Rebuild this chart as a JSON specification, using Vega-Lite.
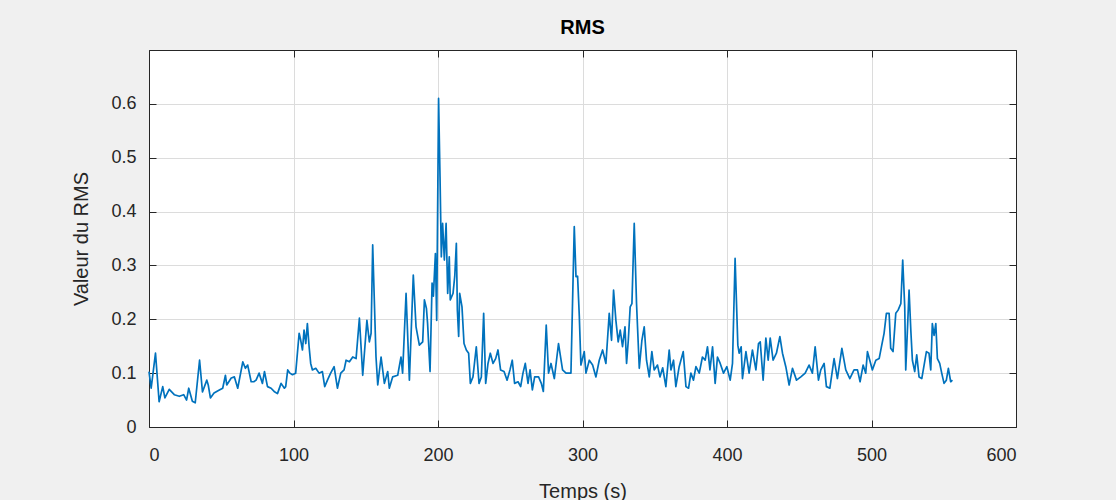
{
  "$schema": "https://vega.github.io/schema/vega-lite/v6.json",
  "autosize": {"type": "none"},
  "width": 867,
  "height": 377,
  "padding": {"left": 149, "top": 50, "right": 100, "bottom": 73},
  "background": "#f0f0f0",
  "title": {"text": "RMS", "font": "Liberation Sans", "fontSize": 20, "fontWeight": "bold", "color": "#000000", "offset": 12},
  "config": {
    "view": {"fill": "#ffffff", "stroke": "#262626", "strokeWidth": 1},
    "axis": {
      "domainColor": "#262626",
      "tickColor": "#262626",
      "labelColor": "#262626",
      "titleColor": "#262626",
      "labelFont": "Liberation Sans",
      "titleFont": "Liberation Sans",
      "labelFontSize": 18,
      "titleFontSize": 20,
      "titleFontWeight": "normal",
      "gridColor": "#dcdcdc",
      "gridWidth": 1,
      "tickSize": -7
    }
  },
  "data": {"values": [
    {"t": 0, "rms": 0.103}, {"t": 1.5, "rms": 0.072}, {"t": 4.5, "rms": 0.137}, {"t": 7, "rms": 0.047},
    {"t": 9.5, "rms": 0.075}, {"t": 11, "rms": 0.054}, {"t": 14, "rms": 0.07}, {"t": 17.5, "rms": 0.06},
    {"t": 21, "rms": 0.057}, {"t": 24, "rms": 0.06}, {"t": 26, "rms": 0.05}, {"t": 27.5, "rms": 0.072},
    {"t": 30, "rms": 0.048}, {"t": 32, "rms": 0.045}, {"t": 35, "rms": 0.124}, {"t": 37, "rms": 0.065},
    {"t": 40, "rms": 0.087}, {"t": 41, "rms": 0.078}, {"t": 42.5, "rms": 0.054}, {"t": 45, "rms": 0.063},
    {"t": 49, "rms": 0.069}, {"t": 51, "rms": 0.072}, {"t": 52.9, "rms": 0.096}, {"t": 53.8, "rms": 0.078},
    {"t": 56.9, "rms": 0.091}, {"t": 59.1, "rms": 0.093}, {"t": 61.4, "rms": 0.072}, {"t": 64.9, "rms": 0.121},
    {"t": 66.7, "rms": 0.109}, {"t": 68.3, "rms": 0.115}, {"t": 70.7, "rms": 0.084}, {"t": 72.5, "rms": 0.084},
    {"t": 74.1, "rms": 0.087}, {"t": 76.2, "rms": 0.1}, {"t": 78.5, "rms": 0.081}, {"t": 79.9, "rms": 0.103},
    {"t": 82, "rms": 0.075}, {"t": 84.5, "rms": 0.072}, {"t": 86.6, "rms": 0.066}, {"t": 88.9, "rms": 0.062},
    {"t": 91.4, "rms": 0.081}, {"t": 93.7, "rms": 0.072}, {"t": 94.6, "rms": 0.075}, {"t": 96, "rms": 0.106},
    {"t": 97.5, "rms": 0.1}, {"t": 99.3, "rms": 0.097}, {"t": 101.5, "rms": 0.1}, {"t": 103.9, "rms": 0.174},
    {"t": 105, "rms": 0.161}, {"t": 106.2, "rms": 0.143}, {"t": 107.3, "rms": 0.18}, {"t": 108.5, "rms": 0.155},
    {"t": 109.6, "rms": 0.192}, {"t": 110.8, "rms": 0.149}, {"t": 111.9, "rms": 0.118}, {"t": 113.1, "rms": 0.106},
    {"t": 115.4, "rms": 0.109}, {"t": 117.7, "rms": 0.1}, {"t": 120, "rms": 0.103}, {"t": 121.6, "rms": 0.075},
    {"t": 123.5, "rms": 0.087}, {"t": 125.7, "rms": 0.1}, {"t": 128.1, "rms": 0.112}, {"t": 130.4, "rms": 0.072},
    {"t": 132.7, "rms": 0.1}, {"t": 135, "rms": 0.106}, {"t": 136.4, "rms": 0.124}, {"t": 138.7, "rms": 0.121},
    {"t": 141, "rms": 0.13}, {"t": 143.3, "rms": 0.127}, {"t": 145.6, "rms": 0.202}, {"t": 147.9, "rms": 0.096},
    {"t": 150.8, "rms": 0.198}, {"t": 152.5, "rms": 0.158}, {"t": 153.7, "rms": 0.174}, {"t": 154.8, "rms": 0.338},
    {"t": 157.1, "rms": 0.13}, {"t": 158.3, "rms": 0.078}, {"t": 160.6, "rms": 0.13}, {"t": 162.9, "rms": 0.081},
    {"t": 165.2, "rms": 0.103}, {"t": 166.3, "rms": 0.072}, {"t": 168.6, "rms": 0.093}, {"t": 172.1, "rms": 0.096},
    {"t": 174.4, "rms": 0.13}, {"t": 175.5, "rms": 0.1}, {"t": 177.9, "rms": 0.248}, {"t": 180.2, "rms": 0.087},
    {"t": 182.9, "rms": 0.282}, {"t": 184.8, "rms": 0.186}, {"t": 187.1, "rms": 0.152}, {"t": 189.4, "rms": 0.158},
    {"t": 190.6, "rms": 0.236}, {"t": 192, "rms": 0.22}, {"t": 192.8, "rms": 0.192}, {"t": 194.5, "rms": 0.103},
    {"t": 195.9, "rms": 0.267}, {"t": 196.8, "rms": 0.243}, {"t": 198.2, "rms": 0.322}, {"t": 199.1, "rms": 0.198},
    {"t": 200.4, "rms": 0.61}, {"t": 201.4, "rms": 0.464}, {"t": 202.3, "rms": 0.316}, {"t": 203.2, "rms": 0.378},
    {"t": 204.4, "rms": 0.31}, {"t": 205.6, "rms": 0.378}, {"t": 206.7, "rms": 0.248}, {"t": 207.8, "rms": 0.316},
    {"t": 208.5, "rms": 0.236}, {"t": 210.4, "rms": 0.248}, {"t": 211.6, "rms": 0.28}, {"t": 212.7, "rms": 0.341},
    {"t": 213.4, "rms": 0.217}, {"t": 214.3, "rms": 0.168}, {"t": 215, "rms": 0.248}, {"t": 216.6, "rms": 0.223},
    {"t": 218, "rms": 0.155}, {"t": 219.6, "rms": 0.143}, {"t": 221.2, "rms": 0.137}, {"t": 222.4, "rms": 0.081},
    {"t": 224.2, "rms": 0.093}, {"t": 226.5, "rms": 0.149}, {"t": 228.4, "rms": 0.081}, {"t": 230, "rms": 0.093},
    {"t": 231.6, "rms": 0.211}, {"t": 233, "rms": 0.081}, {"t": 234.6, "rms": 0.118}, {"t": 236.2, "rms": 0.137},
    {"t": 238.1, "rms": 0.118}, {"t": 239.9, "rms": 0.127}, {"t": 241.5, "rms": 0.143}, {"t": 243.3, "rms": 0.106},
    {"t": 245.7, "rms": 0.103}, {"t": 247.8, "rms": 0.087}, {"t": 249.8, "rms": 0.106}, {"t": 251.4, "rms": 0.124},
    {"t": 253, "rms": 0.081}, {"t": 255.4, "rms": 0.084}, {"t": 257.2, "rms": 0.075}, {"t": 258.8, "rms": 0.1},
    {"t": 260.4, "rms": 0.118}, {"t": 262.3, "rms": 0.081}, {"t": 263.7, "rms": 0.106}, {"t": 265.3, "rms": 0.069},
    {"t": 266.9, "rms": 0.093}, {"t": 269.6, "rms": 0.093}, {"t": 271.5, "rms": 0.081}, {"t": 272.9, "rms": 0.066},
    {"t": 274.9, "rms": 0.189}, {"t": 276.5, "rms": 0.1}, {"t": 278.2, "rms": 0.118}, {"t": 280.5, "rms": 0.09},
    {"t": 283.4, "rms": 0.155}, {"t": 286.2, "rms": 0.106}, {"t": 288.6, "rms": 0.1}, {"t": 292, "rms": 0.1},
    {"t": 294.3, "rms": 0.372}, {"t": 295.5, "rms": 0.279}, {"t": 296.6, "rms": 0.28}, {"t": 297.8, "rms": 0.205},
    {"t": 298.9, "rms": 0.115}, {"t": 301.2, "rms": 0.14}, {"t": 302.4, "rms": 0.1}, {"t": 304.7, "rms": 0.124},
    {"t": 307, "rms": 0.115}, {"t": 309.3, "rms": 0.093}, {"t": 311.6, "rms": 0.124}, {"t": 313.9, "rms": 0.143},
    {"t": 316.2, "rms": 0.118}, {"t": 318.5, "rms": 0.211}, {"t": 320.1, "rms": 0.161}, {"t": 321.5, "rms": 0.254},
    {"t": 323.1, "rms": 0.198}, {"t": 324.7, "rms": 0.158}, {"t": 326.1, "rms": 0.18}, {"t": 327.7, "rms": 0.149},
    {"t": 329.4, "rms": 0.186}, {"t": 330.5, "rms": 0.118}, {"t": 331.7, "rms": 0.161}, {"t": 333, "rms": 0.223},
    {"t": 334.2, "rms": 0.229}, {"t": 335.8, "rms": 0.378}, {"t": 337.4, "rms": 0.229}, {"t": 339.3, "rms": 0.109},
    {"t": 341.1, "rms": 0.161}, {"t": 342.7, "rms": 0.186}, {"t": 344.3, "rms": 0.124}, {"t": 346.2, "rms": 0.093},
    {"t": 348, "rms": 0.14}, {"t": 349.6, "rms": 0.106}, {"t": 351.9, "rms": 0.115}, {"t": 353.6, "rms": 0.093},
    {"t": 355.5, "rms": 0.11}, {"t": 357.7, "rms": 0.075}, {"t": 360, "rms": 0.143}, {"t": 361.2, "rms": 0.106},
    {"t": 363, "rms": 0.124}, {"t": 364.6, "rms": 0.075}, {"t": 366.9, "rms": 0.112}, {"t": 369.7, "rms": 0.14},
    {"t": 371.6, "rms": 0.075}, {"t": 373.4, "rms": 0.072}, {"t": 375, "rms": 0.1}, {"t": 376.8, "rms": 0.087},
    {"t": 378.5, "rms": 0.112}, {"t": 380.8, "rms": 0.1}, {"t": 383, "rms": 0.13}, {"t": 384.9, "rms": 0.124},
    {"t": 386.5, "rms": 0.149}, {"t": 388.2, "rms": 0.106}, {"t": 390, "rms": 0.149}, {"t": 391.8, "rms": 0.081},
    {"t": 393.4, "rms": 0.13}, {"t": 395.3, "rms": 0.118}, {"t": 397.6, "rms": 0.1}, {"t": 399.9, "rms": 0.112},
    {"t": 402.2, "rms": 0.087}, {"t": 403.8, "rms": 0.118}, {"t": 405.6, "rms": 0.313}, {"t": 407.5, "rms": 0.152},
    {"t": 408.4, "rms": 0.137}, {"t": 409.8, "rms": 0.149}, {"t": 410.7, "rms": 0.09}, {"t": 413.1, "rms": 0.14},
    {"t": 415.3, "rms": 0.1}, {"t": 417.6, "rms": 0.143}, {"t": 420, "rms": 0.106}, {"t": 421.8, "rms": 0.155},
    {"t": 423, "rms": 0.158}, {"t": 425, "rms": 0.087}, {"t": 426.9, "rms": 0.165}, {"t": 428.5, "rms": 0.124},
    {"t": 429.9, "rms": 0.165}, {"t": 431.9, "rms": 0.124}, {"t": 434.2, "rms": 0.137}, {"t": 436.6, "rms": 0.168},
    {"t": 438.4, "rms": 0.137}, {"t": 440.7, "rms": 0.112}, {"t": 443, "rms": 0.078}, {"t": 445.3, "rms": 0.109},
    {"t": 448.1, "rms": 0.087}, {"t": 451.1, "rms": 0.093}, {"t": 454.1, "rms": 0.1}, {"t": 456.8, "rms": 0.115},
    {"t": 459.1, "rms": 0.1}, {"t": 461, "rms": 0.149}, {"t": 463.3, "rms": 0.087}, {"t": 464.9, "rms": 0.106},
    {"t": 467.2, "rms": 0.118}, {"t": 468.8, "rms": 0.075}, {"t": 471.2, "rms": 0.072}, {"t": 474.1, "rms": 0.127},
    {"t": 476.4, "rms": 0.09}, {"t": 479.5, "rms": 0.146}, {"t": 482.2, "rms": 0.106}, {"t": 485, "rms": 0.09},
    {"t": 487.9, "rms": 0.106}, {"t": 490.3, "rms": 0.106}, {"t": 492.1, "rms": 0.084}, {"t": 494.2, "rms": 0.115},
    {"t": 496, "rms": 0.1}, {"t": 497.2, "rms": 0.14}, {"t": 498.8, "rms": 0.124}, {"t": 500.6, "rms": 0.106},
    {"t": 503, "rms": 0.124}, {"t": 505.3, "rms": 0.127}, {"t": 507.1, "rms": 0.152}, {"t": 508.7, "rms": 0.174},
    {"t": 510.3, "rms": 0.211}, {"t": 512.2, "rms": 0.211}, {"t": 513.3, "rms": 0.146}, {"t": 514.9, "rms": 0.14},
    {"t": 516.8, "rms": 0.211}, {"t": 518.4, "rms": 0.217}, {"t": 520.3, "rms": 0.229}, {"t": 521.6, "rms": 0.31},
    {"t": 523, "rms": 0.223}, {"t": 523.7, "rms": 0.106}, {"t": 526, "rms": 0.254}, {"t": 527.2, "rms": 0.18},
    {"t": 528.3, "rms": 0.124}, {"t": 529.9, "rms": 0.103}, {"t": 531.3, "rms": 0.134}, {"t": 532.9, "rms": 0.093},
    {"t": 534.8, "rms": 0.09}, {"t": 536.4, "rms": 0.115}, {"t": 538, "rms": 0.14}, {"t": 539.8, "rms": 0.137},
    {"t": 541, "rms": 0.106}, {"t": 542.1, "rms": 0.192}, {"t": 543.3, "rms": 0.17}, {"t": 544.5, "rms": 0.192},
    {"t": 545.6, "rms": 0.127}, {"t": 547.2, "rms": 0.118}, {"t": 548.6, "rms": 0.1}, {"t": 550.2, "rms": 0.081},
    {"t": 551.8, "rms": 0.087}, {"t": 553.2, "rms": 0.109}, {"t": 554.8, "rms": 0.084}, {"t": 556, "rms": 0.087}
  ]},
  "layer": [
    {
      "mark": {"type": "line", "color": "#0072BD", "strokeWidth": 1.7, "strokeJoin": "round"},
      "encoding": {
        "x": {
          "field": "t", "type": "quantitative",
          "scale": {"domain": [0, 600], "nice": false},
          "axis": {"title": "Temps (s)", "values": [0, 100, 200, 300, 400, 500, 600], "labelPadding": 26, "titleY": 54}
        },
        "y": {
          "field": "rms", "type": "quantitative",
          "scale": {"domain": [0, 0.7], "nice": false, "zero": true},
          "axis": {"title": "Valeur du RMS", "values": [0, 0.1, 0.2, 0.3, 0.4, 0.5, 0.6],
                   "labelExpr": "datum.value == 0 ? '0' : format(datum.value, '.1f')",
                   "labelPadding": 20, "titleX": -58}
        }
      }
    },
    {
      "mark": {"type": "line", "strokeOpacity": 0},
      "encoding": {
        "x": {
          "field": "t", "type": "quantitative",
          "axis": {"orient": "top", "values": [0, 100, 200, 300, 400, 500, 600], "labels": false, "grid": false, "title": null}
        },
        "y": {
          "field": "rms", "type": "quantitative",
          "axis": {"orient": "right", "values": [0, 0.1, 0.2, 0.3, 0.4, 0.5, 0.6], "labels": false, "grid": false, "title": null}
        }
      }
    }
  ],
  "resolve": {"axis": {"x": "independent", "y": "independent"}}
}
